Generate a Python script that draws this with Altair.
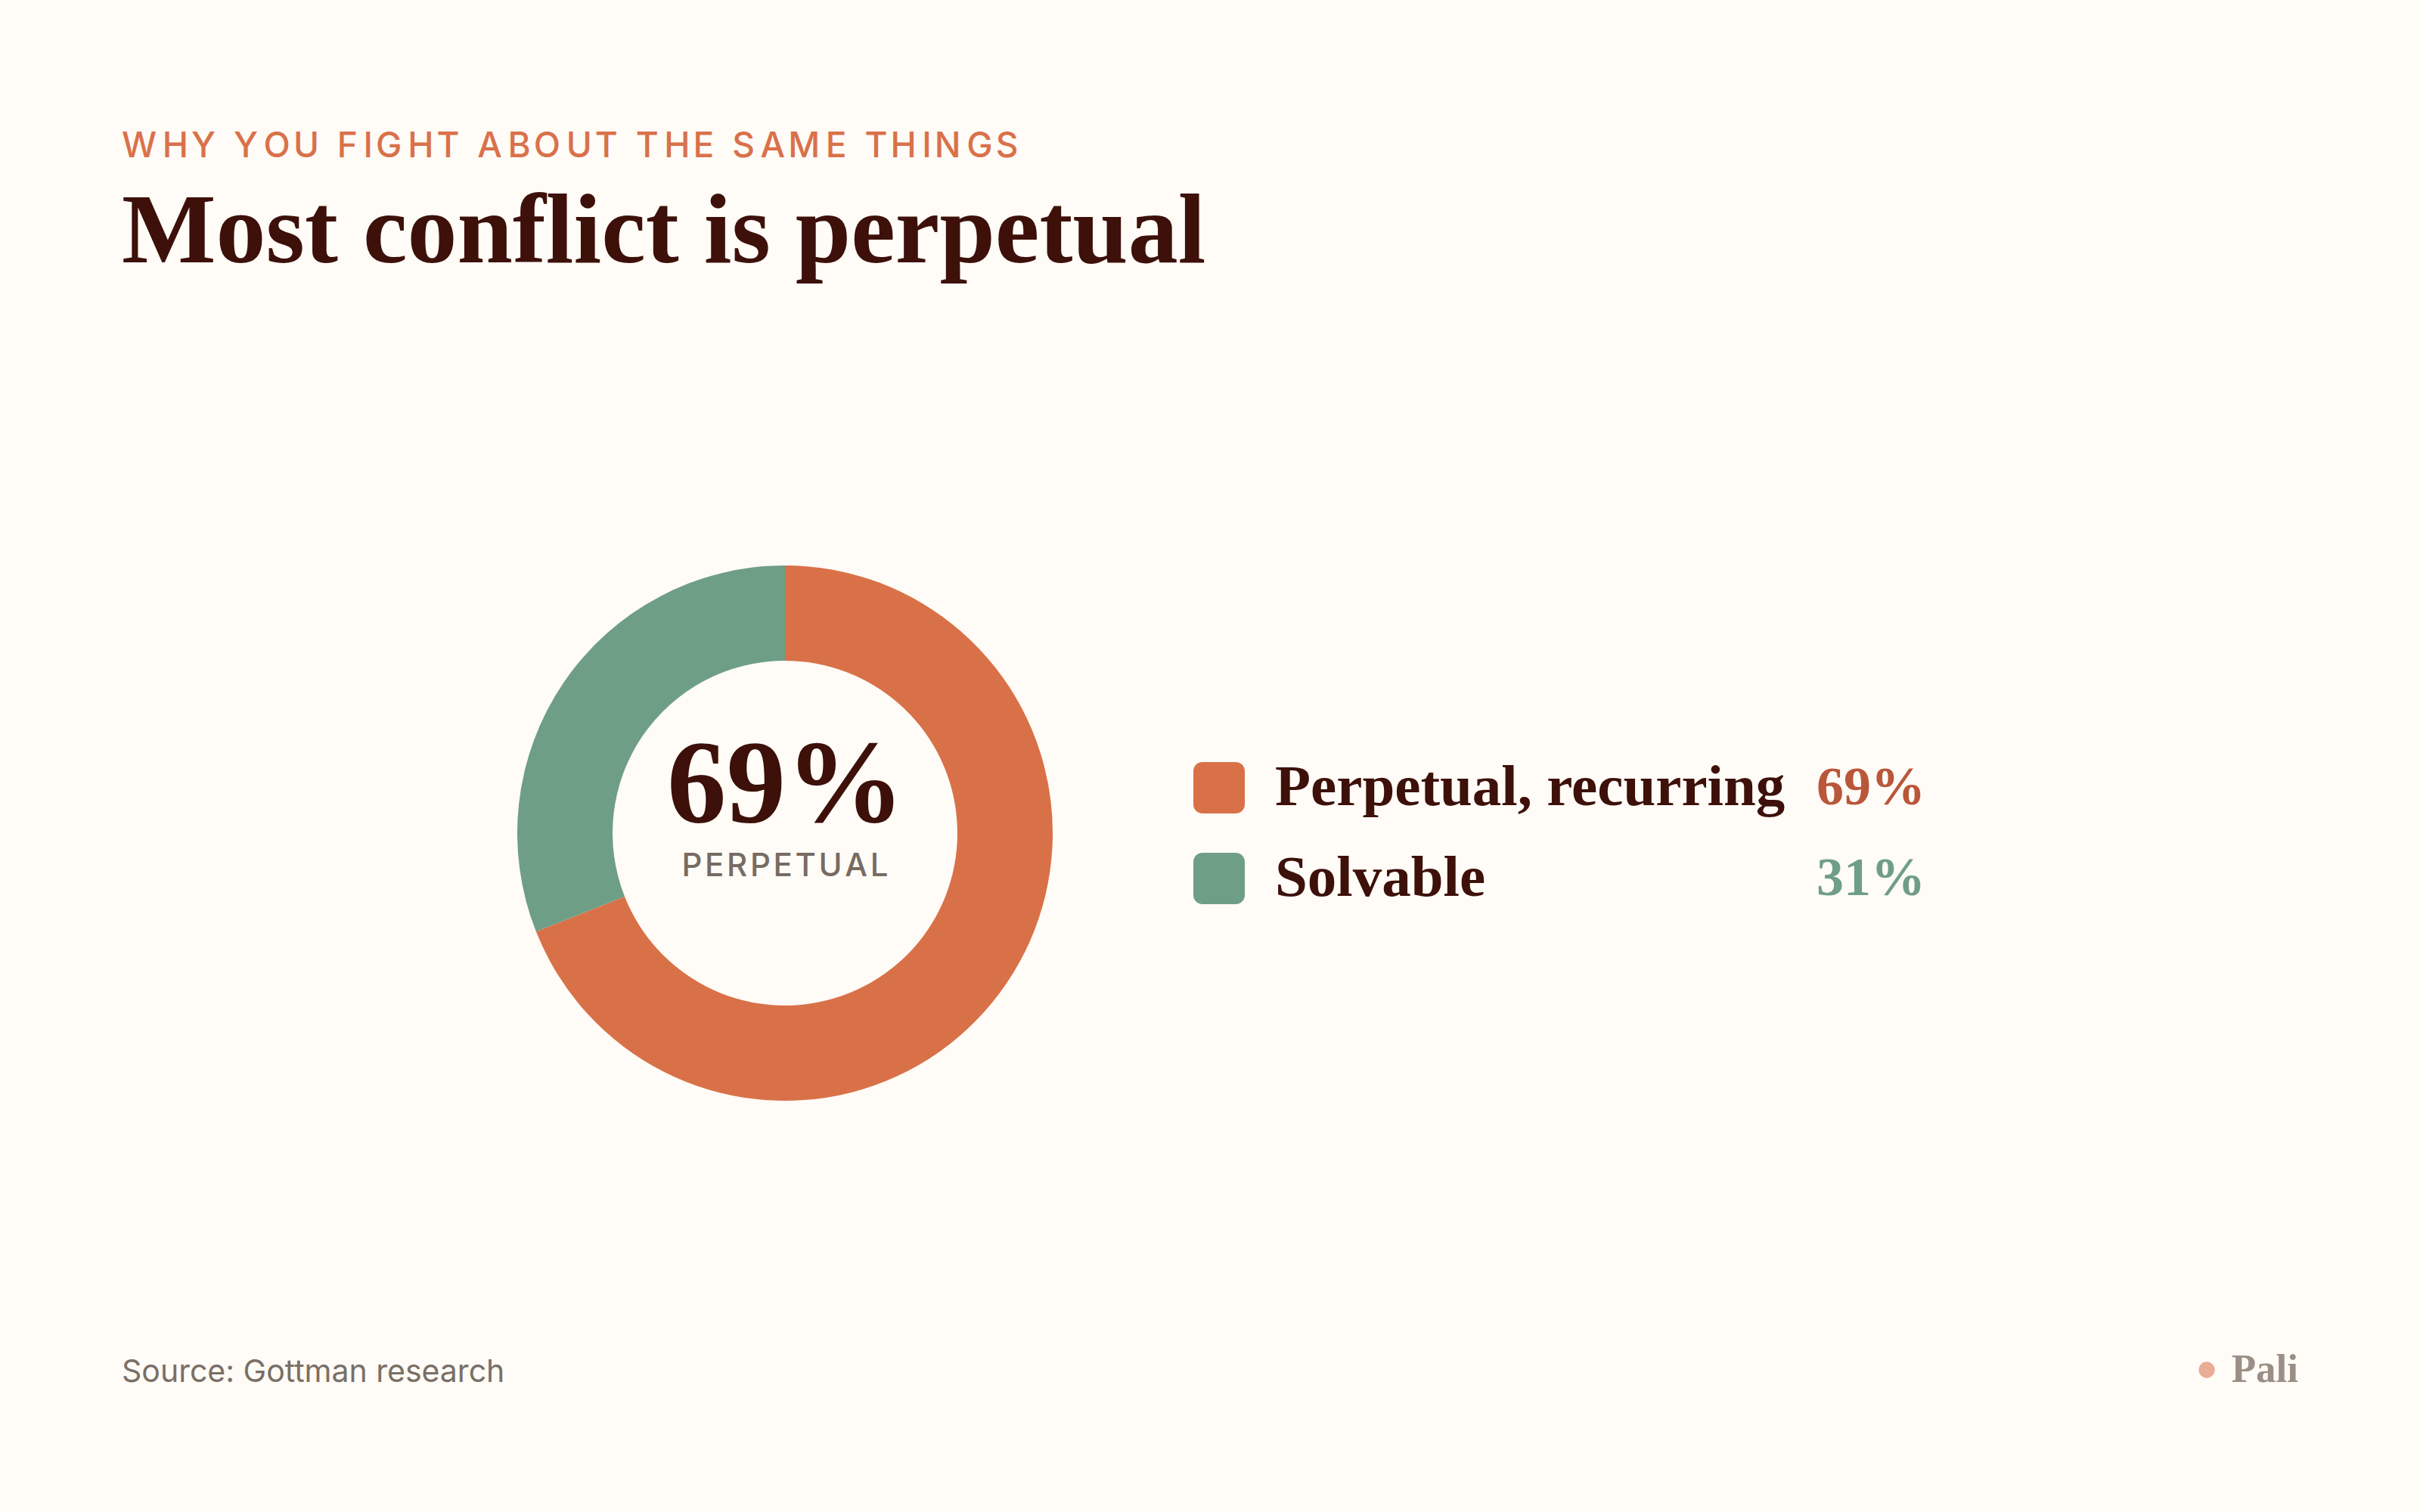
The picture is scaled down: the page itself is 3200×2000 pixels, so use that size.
import altair as alt
import pandas as pd

# ---- data ----
categories = ["Perpetual, recurring", "Solvable"]
values = [69, 31]
center_caption = ["PERPETUAL"]
kicker = ["WHY YOU FIGHT ABOUT THE SAME THINGS"]
headline = ["Most conflict is perpetual"]
source = ["Source: Gottman research"]
brand = ["Pali"]

# ---- styles ----
BG = "#fffbf6"
DARK = "#3d100a"
slice_colors = ["#d97148", "#6f9e86"]
pct_colors = ["#b9573a", "#6f9e86"]


def tracked(s, seps):
    """Emulate letter spacing by placing narrow spaces between characters."""
    out = s[0]
    for i, ch in enumerate(s[1:]):
        out += seps[i % len(seps)] + ch
    return out


df = pd.DataFrame({
    "category": categories,
    "value": values,
    "idx": list(range(len(categories))),
})
df["pct"] = [f"{v}%" for v in values]

base = alt.Chart(df)
color_scale = alt.Scale(domain=categories, range=slice_colors)
pct_scale = alt.Scale(domain=categories, range=pct_colors)
row_scale = alt.Scale(domain=[0, 1], range=[1008, 1196], paddingInner=0.4333, paddingOuter=0)

donut = base.mark_arc(innerRadius=228, outerRadius=354).encode(
    theta=alt.Theta("value:Q", stack=True),
    order=alt.Order("idx:Q"),
    color=alt.Color("category:N", scale=color_scale, legend=None),
    x=alt.value(1038),
    y=alt.value(1102),
)

center_num = base.transform_filter("datum.idx == 0").mark_text(
    align="center", baseline="alphabetic", font="Liberation Serif",
    fontWeight="bold", fontSize=157, color=DARK,
).encode(x=alt.value(1039), y=alt.value(1087), text="pct:N")

center_cap = alt.Chart(pd.DataFrame({"t": [tracked(c, ["\u200a"]) for c in center_caption]})).mark_text(
    align="center", baseline="alphabetic", font="Inter", fontSize=42,
    fontWeight=500, color="#776b62",
).encode(x=alt.value(1038), y=alt.value(1159), text="t:N")

swatch = base.mark_rect(cornerRadius=12).encode(
    x=alt.value(1578), x2=alt.value(1646),
    y=alt.Y("idx:O", scale=row_scale, axis=None),
    color=alt.Color("category:N", scale=color_scale, legend=None),
)

labels = base.mark_text(
    align="left", baseline="middle", font="Liberation Serif",
    fontWeight="bold", fontSize=77, color=DARK,
).encode(
    x=alt.value(1686),
    y=alt.Y("idx:O", scale=row_scale, axis=None),
    text="category:N",
)

pcts = base.mark_text(
    align="right", baseline="middle", font="Liberation Serif",
    fontWeight="bold", fontSize=72,
).encode(
    x=alt.value(2546),
    y=alt.Y("idx:O", scale=row_scale, axis=None),
    text="pct:N",
    color=alt.Color("category:N", scale=pct_scale, legend=None),
)

kick = alt.Chart(pd.DataFrame({"t": [tracked(k, ["\u2006", "\u200a"]) for k in kicker]})).mark_text(
    align="left", baseline="alphabetic", font="Inter", fontSize=46,
    fontWeight=500, color="#d9714a",
).encode(x=alt.value(161), y=alt.value(208), text="t:N")

title = alt.Chart(pd.DataFrame({"t": headline})).mark_text(
    align="left", baseline="alphabetic", font="Liberation Serif",
    fontWeight="bold", fontSize=132, color=DARK,
).encode(x=alt.value(161), y=alt.value(347), text="t:N")

src = alt.Chart(pd.DataFrame({"t": source})).mark_text(
    align="left", baseline="alphabetic", font="Inter", fontSize=41,
    color="#7a6f66",
).encode(x=alt.value(161), y=alt.value(1828), text="t:N")

brand_txt = alt.Chart(pd.DataFrame({"t": brand})).mark_text(
    align="right", baseline="alphabetic", font="Liberation Serif",
    fontWeight="bold", fontSize=53, color="#9b8f85",
).encode(x=alt.value(3039), y=alt.value(1828), text="t:N")

brand_dot = alt.Chart(pd.DataFrame({"t": brand})).mark_circle(
    size=452, color="#e8ad94", opacity=1,
).encode(x=alt.value(2918), y=alt.value(1812))

chart = alt.layer(
    donut, center_num, center_cap, swatch, labels, pcts,
    kick, title, src, brand_txt, brand_dot,
).resolve_scale(color="independent").properties(
    width=3200, height=2000, background=BG, padding=0, autosize="none",
).configure_view(strokeWidth=0)

chart.save("out.html", embed_options={"renderer": "svg", "actions": False})
